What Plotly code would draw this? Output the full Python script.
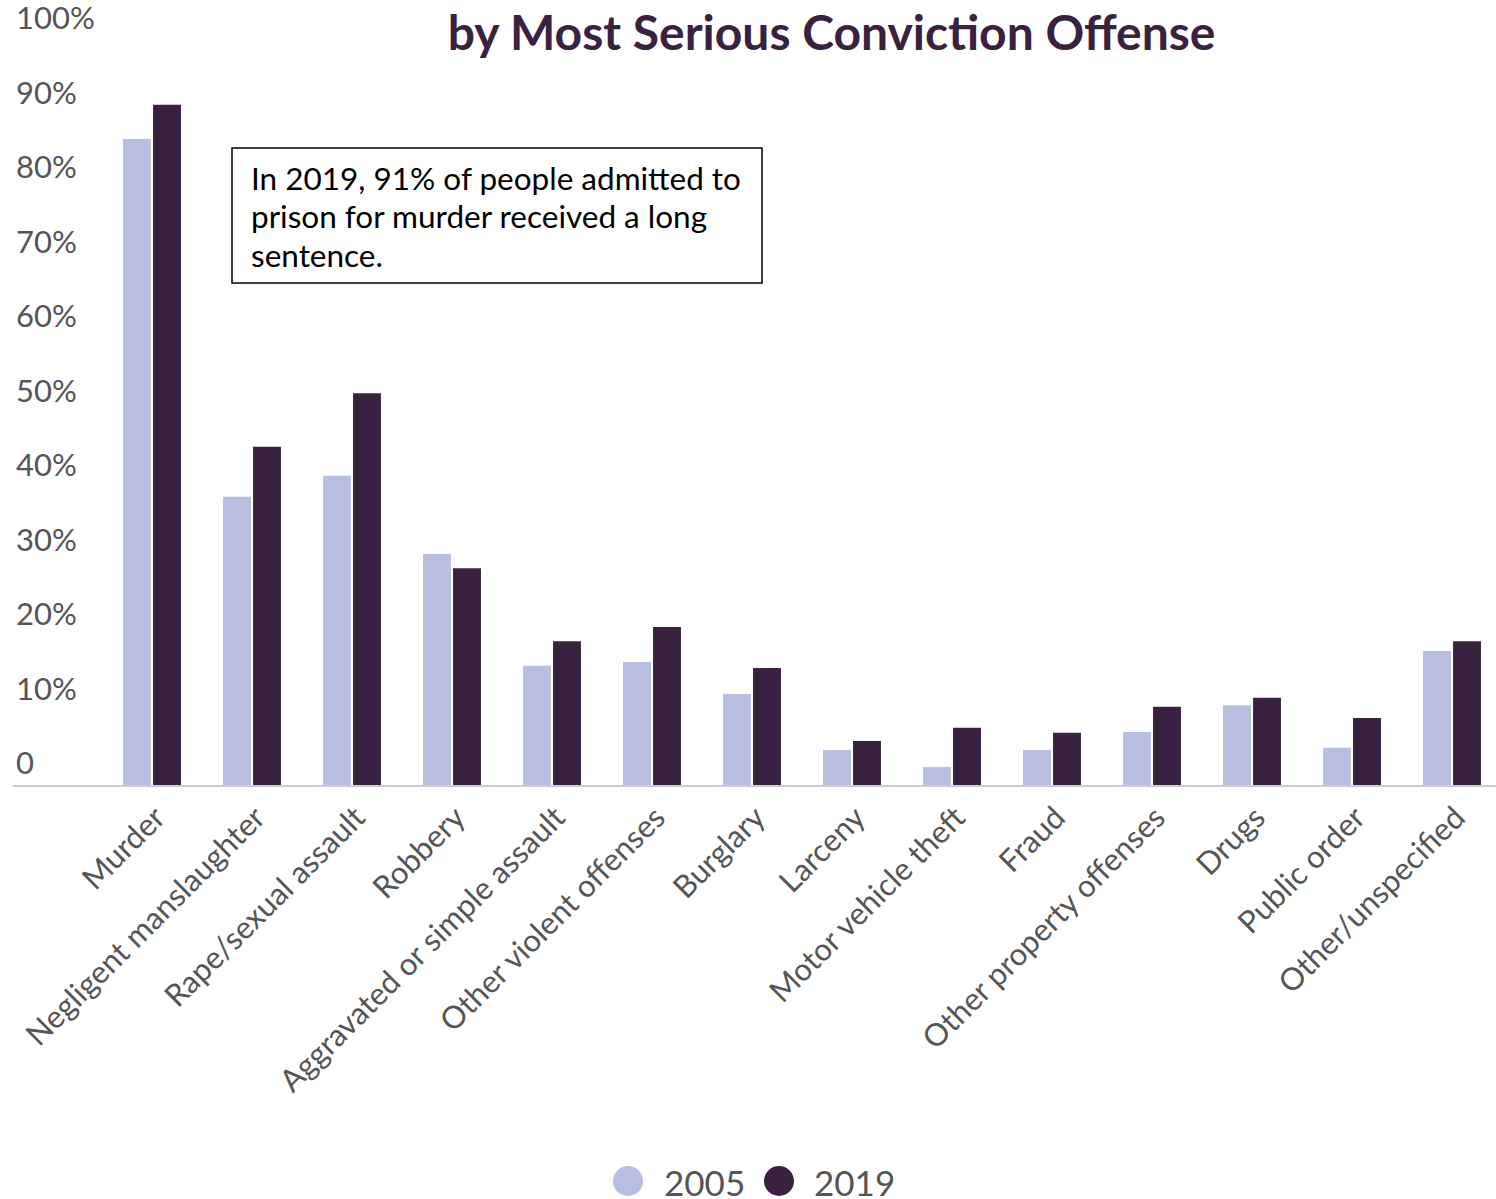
import plotly.graph_objects as go

categories = ["Murder", "Negligent manslaughter", "Rape/sexual assault", "Robbery",
              "Aggravated or simple assault", "Other violent offenses", "Burglary",
              "Larceny", "Motor vehicle theft", "Fraud", "Other property offenses",
              "Drugs", "Public order", "Other/unspecified"]
values_2005 = [86.7, 38.7, 41.5, 31.0, 16.0, 16.5, 12.2, 4.7, 2.4, 4.7, 7.1, 10.7, 5.0, 18.0]
values_2019 = [91.3, 45.4, 52.6, 29.1, 19.3, 21.2, 15.7, 5.9, 7.7, 7.0, 10.5, 11.7, 9.0, 19.3]
y_tickvals = [0, 10, 20, 30, 40, 50, 60, 70, 80, 90, 100]
y_ticktext = ["0", "10%", "20%", "30%", "40%", "50%", "60%", "70%", "80%", "90%", "100%"]
series_names = ["2005", "2019"]
title_lines = ["Share of Prison Admissions Receiving Long Sentences",
               "by Most Serious Conviction Offense"]
note_lines = ["In 2019, 91% of people admitted to",
              "prison for murder received a long",
              "sentence."]

C05 = "#b8bedf"
C19 = "#3a2140"
GRAY = "#555555"
FONT = "Lato"

W, H = 1496, 1199
ML, MR, MT, MB = 13, 0, 40, 414
PW, PH = W - ML - MR, H - MT - MB


def px_x(x):
    return (x - ML) / PW


def px_y(y):
    return (H - MB - y) / PH


fig = go.Figure()
fig.add_trace(go.Bar(x=categories, y=values_2005, name=series_names[0],
                     marker=dict(color=C05, line=dict(width=0))))
fig.add_trace(go.Bar(x=categories, y=values_2019, name=series_names[1],
                     marker=dict(color=C19, line=dict(width=0))))

fig.update_layout(
    width=W, height=H,
    margin=dict(l=ML, r=MR, t=MT, b=MB),
    paper_bgcolor="white", plot_bgcolor="white",
    font=dict(family=FONT, color=GRAY),
    barmode="group", bargap=0.4, bargroupgap=0.07,
    showlegend=False,
)
fig.update_xaxes(type="category", range=[-1.39, 13.44], showgrid=False, automargin=False,
                 showline=True, linecolor="#cccccc", linewidth=2,
                 tickangle=-45, tickfont=dict(size=31, color=GRAY), ticks="",
                 ticklabelstandoff=0, ticklabelshift=4)
fig.update_yaxes(range=[0, 100], showgrid=False, zeroline=False, showline=False,
                 automargin=False, tickvals=y_tickvals, ticktext=y_ticktext,
                 ticklabelposition="inside top", ticklabeloverflow="allow",
                 tickfont=dict(size=31, color=GRAY))

# title (first line runs off the top of the page, as in the reference)
fig.add_annotation(xref="paper", yref="paper", x=px_x(832), y=px_y(62),
                   xanchor="center", yanchor="bottom", align="center", showarrow=False,
                   text="<br>".join(title_lines),
                   font=dict(family=FONT, size=48, color=C19, weight="bold"))

# annotation box
fig.add_shape(type="rect", xref="paper", yref="paper",
              x0=px_x(232), x1=px_x(762), y0=px_y(283), y1=px_y(148),
              line=dict(color="black", width=1.5), fillcolor="white", layer="above")
for line, cy in zip(note_lines, [178, 216.5, 255]):
    fig.add_annotation(xref="paper", yref="paper", x=px_x(249), y=px_y(cy),
                       xanchor="left", yanchor="middle", align="left", showarrow=False,
                       text=line, font=dict(family=FONT, size=31.5, color="black"))

# legend (circles + labels)
for name, color, cx, tx in [(series_names[0], C05, 628, 662), (series_names[1], C19, 779, 812)]:
    fig.add_shape(type="circle", xref="paper", yref="paper",
                  xsizemode="pixel", ysizemode="pixel",
                  xanchor=px_x(cx), yanchor=px_y(1181),
                  x0=-15, x1=15, y0=-15, y1=15,
                  line=dict(width=0), fillcolor=color)
    fig.add_annotation(xref="paper", yref="paper", x=px_x(tx), y=px_y(1182),
                       xanchor="left", yanchor="middle", showarrow=False,
                       text=name, font=dict(family=FONT, size=35, color=GRAY))

fig.write_html("out.html")
